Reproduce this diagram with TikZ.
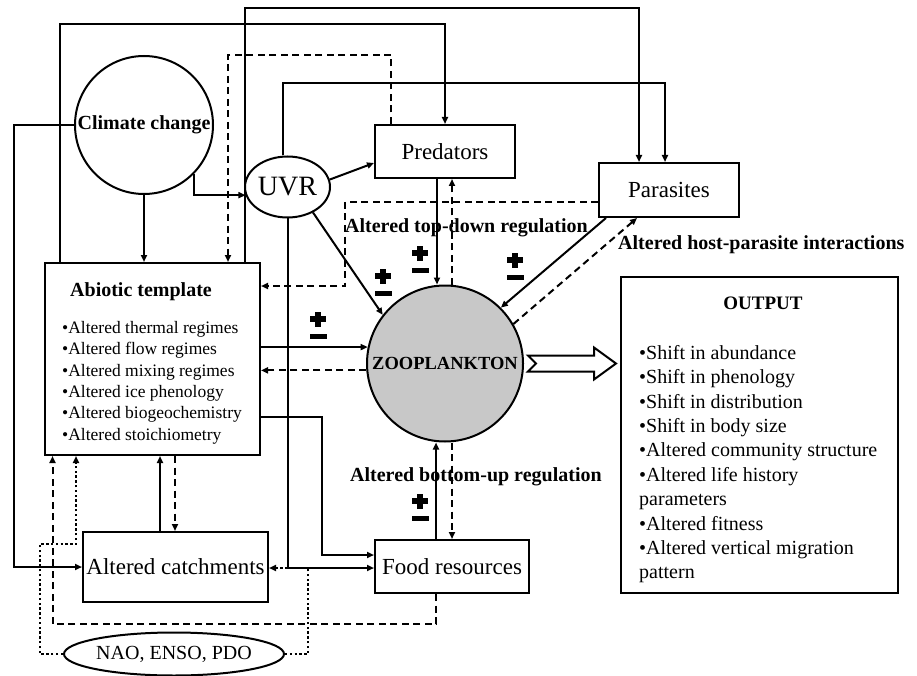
\documentclass[tikz,border=0pt]{standalone}
\usepackage{fontspec}
\setmainfont{Liberation Serif}
\usetikzlibrary{arrows.meta,shapes.geometric}
\definecolor{zoogray}{RGB}{200,200,200}
\begin{document}
\begin{tikzpicture}[x=1pt,y=-1pt,
  ln/.style={line width=2pt},
  arr/.style={ln,-{Triangle[length=7pt,width=6pt]}},
  dsh/.style={dash pattern=on 7pt off 4.5pt},
  dotl/.style={line width=2.6pt,dash pattern=on 2.4pt off 2.4pt},
  box/.style={draw,line width=2pt,rectangle,inner sep=0pt},
  bigtxt/.style={font=\fontsize{23}{26}\selectfont},
  boldlab/.style={font=\bfseries\fontsize{20}{22}\selectfont,inner sep=0pt},
  pm/.pic={\fill (-8,-3) rectangle (8,3); \fill (-3,-7.5) rectangle (3,7.5); \fill (-8.5,14.5) rectangle (8.5,19.5);}
]
\useasboundingbox (0,0) rectangle (917,676);
\fill[white] (0,0) rectangle (917,676);

% nodes
\node[circle,draw,ln,minimum size=138pt,inner sep=0pt,font=\bfseries\fontsize{20}{22}\selectfont] (climate) at (144,125) {\makebox[0pt]{\raisebox{-3pt}{Climate change}}};
\node[ellipse,draw,ln,minimum width=85pt,minimum height=61pt,inner sep=0pt,font=\fontsize{28}{30}\selectfont] (uvr) at (287.5,187) {\makebox[0pt]{\raisebox{-3pt}{UVR}}};
\node[box,bigtxt,minimum width=140pt,minimum height=53pt] (pred) at (445,151.5) {Predators};
\node[box,bigtxt,minimum width=140pt,minimum height=54pt] (para) at (669,190) {Parasites};
\node[box,minimum width=215pt,minimum height=192pt] (abiotic) at (152.5,359) {};
\node[circle,draw,ln,fill=zoogray,minimum size=156pt,inner sep=0pt,font=\bfseries\fontsize{18.5}{19}\selectfont] (zoo) at (445,363.5) {\makebox[0pt]{\raisebox{-1.5pt}{ZOOPLANKTON}}};
\node[box,minimum width=277pt,minimum height=316pt] (output) at (759.5,435) {};
\node[box,bigtxt,minimum width=185pt,minimum height=70pt] (catch) at (175.5,567) {Altered catchments};
\node[box,bigtxt,minimum width=154pt,minimum height=53pt] (food) at (452,566.5) {Food resources};
\node[ellipse,draw,ln,minimum width=220pt,minimum height=43pt,inner sep=0pt,font=\fontsize{20}{22}\selectfont] (nao) at (174,654) {NAO, ENSO, PDO};

% texts in boxes
\node[boldlab,anchor=base west] (abtitle) at (70,296) {Abiotic template};
\node[anchor=north west,align=left,inner sep=0pt,font=\fontsize{17.5}{21.4}\selectfont] (ablist) at (62,321) {%
•Altered thermal regimes\\
•Altered flow regimes\\
•Altered mixing regimes\\
•Altered ice phenology\\
•Altered biogeochemistry\\
•Altered stoichiometry};
\node[boldlab,font=\bfseries\fontsize{19}{22}\selectfont,anchor=base] (outtitle) at (763,309) {OUTPUT};
\node[anchor=north west,align=left,inner sep=0pt,font=\fontsize{20}{24.4}\selectfont] (outlist) at (639,345) {%
•Shift in abundance\\
•Shift in phenology\\
•Shift in distribution\\
•Shift in body size\\
•Altered community structure\\
•Altered life history\\
parameters\\
•Altered fitness\\
•Altered vertical migration\\
pattern};

% connectors
\draw[arr] (245,0 |- abiotic.north) -- (245,8) -| (639,0 |- para.north);
\draw[arr] (60,0 |- abiotic.north) -- (60,24) -| (pred.north);
\draw[arr,dsh] (391,0 |- pred.north) -- (391,55) -| (228,0 |- abiotic.north);
\draw[arr] (283,0 |- uvr.north) -- (283,83) -| (665,0 |- para.north);
\draw[arr] (climate.west) -- (14,0 |- climate.west) |- (catch.west);
\draw[arr] (climate.-45) |- (uvr.191);
\draw[arr] (climate.south) -- (climate.south |- abiotic.north);
\draw[arr] (uvr.10) -- (pred.west |- 0,163);
\draw[arr] (uvr.-45) -- (zoo.142);
\draw[arr] (437,0 |- pred.south) -- (437,0 |- zoo.north);
\draw[arr,dsh] (452,0 |- zoo.north) -- (452,0 |- pred.south);
\draw[arr] (606,0 |- para.south) -- (zoo.45);
\draw[arr,dsh] (zoo.30) -- (637,0 |- para.south);
\draw[arr,dsh] (para.west |- 0,202) -| (345,286) -- (abiotic.east |- 0,286);
\draw[arr] (abiotic.east |- zoo.168) -- (zoo.168);
\draw[arr,dsh] (zoo.185) -- (abiotic.east |- zoo.185);
\draw[arr] (abiotic.east |- 0,417) -| (322,555) -- (food.west |- 0,555);
\draw[arr] (uvr.south) |- (food.west |- 0,568);
\draw[arr] (160,0 |- catch.north) -- (160,0 |- abiotic.south);
\draw[arr,dsh] (175,0 |- abiotic.south) -- (175,0 |- catch.north);
\draw[arr] (436,0 |- food.north) -- (436,0 |- zoo.south);
\draw[arr,dsh] (452,0 |- zoo.south) -- (452,0 |- food.north);
\draw[arr,dsh] (436,0 |- food.south) -- (436,624) -| (52.5,0 |- abiotic.south);
\draw[arr,dotl] (nao.west) -| (40,544) -| (76,0 |- abiotic.south);
\draw[arr,dotl] (nao.east) -| (308,568) -- (catch.east |- 0,568);

% big hollow arrow zooplankton -> output
\path (zoo.east) ++(4,0) coordinate (bt);
\draw[line width=2pt,fill=white] (bt) ++(0,-8) -- ++(66,0) -- ++(0,-8) -- ++(22,16) -- ++(-22,16) -- ++(0,-8) -- ++(-66,0) -- ++(8,-8) -- cycle;

% labels
\node[boldlab,anchor=base west] (tdlab) at (345,233) {Altered top-down regulation};
\node[boldlab,anchor=base west] (hplab) at (618,249) {Altered host-parasite interactions};
\node[boldlab,anchor=base west] (bulab) at (350,481) {Altered bottom-up regulation};

% plus/minus signs
\pic at (383,276) {pm};
\pic at (420,253) {pm};
\pic at (515,260) {pm};
\pic at (318,319) {pm};
\pic at (420,501) {pm};
\end{tikzpicture}
\end{document}
